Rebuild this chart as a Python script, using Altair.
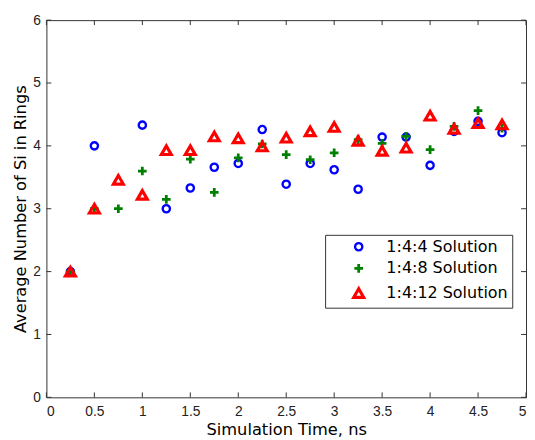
import altair as alt
import pandas as pd

series_names = ["1:4:4 Solution", "1:4:8 Solution", "1:4:12 Solution"]
series_colors = ["#0000FF", "#008000", "#FF0000"]
series_shapes = ["circle", "M-1,0H1M0,-1V1", "triangle-up"]
series_sizes = [54, 100, 68]
series_strokes = [2.4, 3.2, 2.6]

x_blue = [0.25, 0.5, 1.0, 1.25, 1.5, 1.75, 2.0, 2.25, 2.5, 2.75, 3.0, 3.25, 3.5, 3.75, 4.0, 4.25, 4.5, 4.75]
y_blue = [2.0, 4.0, 4.33, 3.0, 3.33, 3.66, 3.72, 4.26, 3.39, 3.72, 3.62, 3.31, 4.14, 4.14, 3.69, 4.23, 4.39, 4.21]

x_green = [0.25, 0.5, 0.75, 1.0, 1.25, 1.5, 1.75, 2.0, 2.25, 2.5, 2.75, 3.0, 3.25, 3.5, 3.75, 4.0, 4.25, 4.5, 4.75]
y_green = [2.0, 3.0, 3.0, 3.6, 3.15, 3.79, 3.26, 3.81, 4.03, 3.86, 3.78, 3.89, 4.10, 4.04, 4.15, 3.94, 4.31, 4.56, 4.28]

x_red = [0.25, 0.5, 0.75, 1.0, 1.25, 1.5, 1.75, 2.0, 2.25, 2.5, 2.75, 3.0, 3.25, 3.5, 3.75, 4.0, 4.25, 4.5, 4.75]
y_red = [2.0, 3.0, 3.46, 3.22, 3.93, 3.93, 4.15, 4.12, 3.99, 4.13, 4.23, 4.30, 4.08, 3.92, 3.97, 4.48, 4.27, 4.36, 4.34]

x_ticks = [0, 0.5, 1, 1.5, 2, 2.5, 3, 3.5, 4, 4.5, 5]
y_ticks = [0, 1, 2, 3, 4, 5, 6]

W, H = 487, 383
TICK = 5
AXIS_COLOR = "#333333"

rows = []
for name, xs, ys in zip(series_names, [x_blue, x_green, x_red], [y_blue, y_green, y_red]):
    for xv, yv in zip(xs, ys):
        rows.append({"t": xv, "v": yv, "s": name})
df = pd.DataFrame(rows)

X = alt.X("t:Q", scale=alt.Scale(domain=[0, 5], nice=False, zero=False),
          axis=alt.Axis(values=x_ticks, format="~g", title="Simulation Time, ns",
                        labelPadding=7, titlePadding=4))
Y = alt.Y("v:Q", scale=alt.Scale(domain=[0, 6], nice=False),
          axis=alt.Axis(values=y_ticks, format="~g", title="Average Number of Si in Rings",
                        labelPadding=6, titlePadding=4))

xt = pd.DataFrame({"t": x_ticks})
yt = pd.DataFrame({"v": y_ticks})

tick_bottom = alt.Chart(xt).mark_rule(color=AXIS_COLOR, strokeWidth=1).encode(
    x=X, y=alt.value(H), y2=alt.value(H - TICK))
tick_top = alt.Chart(xt).mark_rule(color=AXIS_COLOR, strokeWidth=1).encode(
    x=X, y=alt.value(0), y2=alt.value(TICK))
tick_left = alt.Chart(yt).mark_rule(color=AXIS_COLOR, strokeWidth=1).encode(
    y=Y, x=alt.value(0), x2=alt.value(TICK))
tick_right = alt.Chart(yt).mark_rule(color=AXIS_COLOR, strokeWidth=1).encode(
    y=Y, x=alt.value(W), x2=alt.value(W - TICK))

legend = alt.Legend(title=None)
points = alt.Chart(df).mark_point(filled=False, opacity=1).encode(
    x=X,
    y=Y,
    color=alt.Color("s:N", scale=alt.Scale(domain=series_names, range=series_colors), legend=legend),
    shape=alt.Shape("s:N", scale=alt.Scale(domain=series_names, range=series_shapes), legend=legend),
    size=alt.Size("s:N", scale=alt.Scale(domain=series_names, range=series_sizes), legend=None),
    strokeWidth=alt.StrokeWidth("s:N", scale=alt.Scale(domain=series_names, range=series_strokes), legend=None),
)

chart = alt.layer(tick_bottom, tick_top, tick_left, tick_right, points).properties(
    width=W, height=H,
    autosize=alt.AutoSizeParams(type="none"),
    padding={"left": 39, "top": 9, "right": 1, "bottom": 40},
    background="white",
).configure_view(
    stroke=AXIS_COLOR, strokeWidth=1
).configure_axis(
    ticks=False, domain=False, grid=False,
    labelFont="Liberation Sans", labelFontSize=14, labelColor="#222222",
    titleFont="DejaVu Sans", titleFontSize=16.5, titleFontWeight="normal", titleColor="#000000",
).configure_legend(
    orient="none", legendX=283, legendY=218,
    strokeColor=AXIS_COLOR, fillColor="white", padding=4, cornerRadius=0,
    labelFont="DejaVu Sans", labelFontSize=16.2, labelColor="#000000",
    rowPadding=3, symbolOffset=22, labelOffset=20,
    symbolSize=50, symbolStrokeWidth=2.5,
)

chart.save("out.html", embed_options={"renderer": "svg", "actions": False})
